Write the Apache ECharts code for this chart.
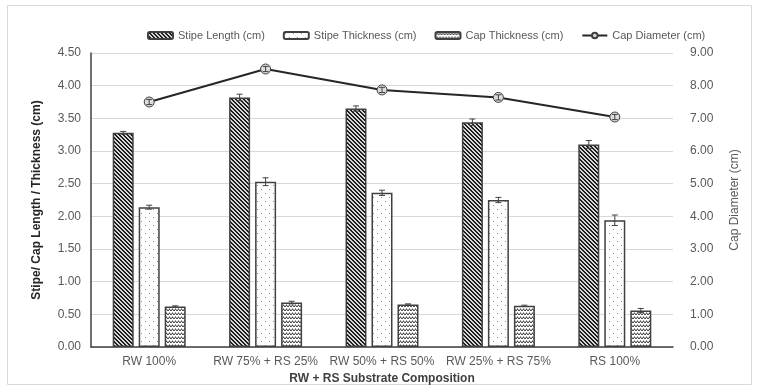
<!DOCTYPE html>
<html><head><meta charset="utf-8">
<script src="https://cdn.jsdelivr.net/npm/echarts@6/dist/echarts.min.js"></script>
<style>html,body{margin:0;padding:0;background:#fff}#c{width:759px;height:390px}</style>
</head><body><div id="c"></div>
<script>
const categories = ['RW 100%', 'RW 75% + RS 25%', 'RW 50% + RS 50%', 'RW 25% + RS 75%', 'RS 100%'];
const stipeLength = [3.28, 3.82, 3.65, 3.44, 3.10];
const stipeLengthErr = [0.02, 0.05, 0.04, 0.05, 0.06];
const stipeThickness = [2.14, 2.53, 2.36, 2.25, 1.94];
const stipeThicknessErr = [0.03, 0.06, 0.04, 0.04, 0.08];
const capThickness = [0.62, 0.68, 0.65, 0.63, 0.56];
const capThicknessErr = [0.01, 0.02, 0.01, 0.01, 0.03];
const capDiameter = [7.50, 8.51, 7.87, 7.64, 7.04];
const capDiameterErr = [0.08, 0.08, 0.08, 0.08, 0.08];
const leftTicks = [0, 4.5, 0.5];
const rightTicks = [0, 9, 1];

function makePattern(w, h, draw) {
  const c = document.createElement('canvas');
  c.width = w; c.height = h;
  const ctx = c.getContext('2d');
  ctx.fillStyle = '#fff'; ctx.fillRect(0, 0, w, h);
  draw(ctx);
  return { image: c, repeat: 'repeat' };
}
const hatchPat = makePattern(4, 4, ctx => {
  ctx.fillStyle = '#d8d8d8'; ctx.fillRect(0, 0, 4, 4);
  ctx.fillStyle = '#1e1e1e';
  for (let x = 0; x < 4; x++) for (let y = 0; y < 4; y++) {
    if (((x - y + 8) % 4) < 2) ctx.fillRect(x, y, 1, 1);
  }
});
const dotPat = makePattern(8, 8, ctx => {
  ctx.fillStyle = '#8a8a8a';
  ctx.fillRect(1, 1, 1, 1);
  ctx.fillRect(5, 5, 1, 1);
});
const wavePat = makePattern(6, 4, ctx => {
  ctx.strokeStyle = '#3a3a3a'; ctx.lineWidth = 1;
  ctx.beginPath();
  ctx.moveTo(0, 3); ctx.lineTo(1.5, 1); ctx.lineTo(3, 3); ctx.lineTo(4.5, 1); ctx.lineTo(6, 3);
  ctx.stroke();
  ctx.fillStyle = '#9a9a9a';
  ctx.fillRect(1, 0, 1, 1); ctx.fillRect(4, 0, 1, 1);
});

const BW = 21, GAP = 5;
function errSeries(name, vals, errs, offsetIdx, yAxisIndex) {
  return {
    name: name, type: 'custom', yAxisIndex: yAxisIndex, z: 10, silent: true,
    data: vals.map((v, i) => [i, v, errs[i]]),
    renderItem: function (params, api) {
      const i = api.value(0), v = api.value(1), e = api.value(2);
      const top = api.coord([i, v + e]);
      const bot = api.coord([i, v - e]);
      const x = top[0] + offsetIdx * (BW + GAP);
      const cap = 3;
      const st = { stroke: '#404040', lineWidth: 1 };
      return { type: 'group', children: [
        { type: 'line', shape: { x1: x, y1: top[1], x2: x, y2: bot[1] }, style: st },
        { type: 'line', shape: { x1: x - cap, y1: top[1], x2: x + cap, y2: top[1] }, style: st },
        { type: 'line', shape: { x1: x - cap, y1: bot[1], x2: x + cap, y2: bot[1] }, style: st }
      ]};
    }
  };
}

const font = 'Liberation Sans, Arial, sans-serif';
const chart = echarts.init(document.getElementById('c'), null, { renderer: 'canvas' });
const barBase = { type: 'bar', barWidth: BW, barGap: (GAP / BW * 100) + '%' };
chart.setOption({
  animation: false,
  textStyle: { fontFamily: font },
  graphic: [{ type: 'rect', shape: { x: 7.5, y: 5.5, width: 744, height: 379 }, style: { fill: 'none', stroke: '#d9d9d9', lineWidth: 1 }, silent: true }],
  legend: {
    data: ['Stipe Length (cm)', 'Stipe Thickness (cm)', 'Cap Thickness (cm)', 'Cap Diameter (cm)'],
    left: 142, top: 25, itemWidth: 25, itemHeight: 7, itemGap: 18,
    textStyle: { color: '#595959', fontSize: 11, fontFamily: font }
  },
  grid: { left: 91, right: 86, top: 53, bottom: 42 },
  xAxis: {
    type: 'category', data: categories,
    axisTick: { show: false },
    axisLine: { lineStyle: { color: '#404040', width: 1.5 } },
    axisLabel: { color: '#595959', fontSize: 12, margin: 9, interval: 0 },
    name: 'RW + RS Substrate Composition', nameLocation: 'middle', nameGap: 26,
    nameTextStyle: { color: '#404040', fontWeight: 'bold', fontSize: 12 }
  },
  yAxis: [{
    type: 'value', min: leftTicks[0], max: leftTicks[1], interval: leftTicks[2],
    axisLine: { show: true, lineStyle: { color: '#404040', width: 1.5 } },
    axisTick: { show: false },
    splitLine: { lineStyle: { color: '#d9d9d9' } },
    axisLabel: { color: '#595959', fontSize: 12, margin: 10, formatter: v => v.toFixed(2) },
    name: 'Stipe/ Cap Length / Thickness (cm)', nameLocation: 'middle', nameGap: 48,
    nameTextStyle: { color: '#262626', fontWeight: 'bold', fontSize: 12 }
  }, {
    type: 'value', min: rightTicks[0], max: rightTicks[1], interval: rightTicks[2],
    axisLine: { show: false }, axisTick: { show: false }, splitLine: { show: false },
    axisLabel: { color: '#595959', fontSize: 12, margin: 17, formatter: v => v.toFixed(2) },
    name: 'Cap Diameter (cm)', nameLocation: 'middle', nameGap: 56,
    nameTextStyle: { color: '#595959', fontSize: 12 }
  }],
  series: [
    Object.assign({}, barBase, { name: 'Stipe Length (cm)', data: stipeLength,
      itemStyle: { color: hatchPat, borderColor: '#404040', borderWidth: 1.5 } }),
    Object.assign({}, barBase, { name: 'Stipe Thickness (cm)', data: stipeThickness,
      itemStyle: { color: dotPat, borderColor: '#404040', borderWidth: 1.5 } }),
    Object.assign({}, barBase, { name: 'Cap Thickness (cm)', data: capThickness,
      itemStyle: { color: wavePat, borderColor: '#404040', borderWidth: 1.5 } }),
    { name: 'Cap Diameter (cm)', type: 'line', yAxisIndex: 1, data: capDiameter, z: 5,
      symbol: 'circle', symbolSize: 10,
      lineStyle: { color: '#262626', width: 2 },
      itemStyle: { color: '#dcdcdc', borderColor: '#404040', borderWidth: 1 } },
    errSeries('e1', stipeLength, stipeLengthErr, -1, 0),
    errSeries('e2', stipeThickness, stipeThicknessErr, 0, 0),
    errSeries('e3', capThickness, capThicknessErr, 1, 0),
    errSeries('e4', capDiameter, capDiameterErr, 0, 1)
  ]
});
</script></body></html>
